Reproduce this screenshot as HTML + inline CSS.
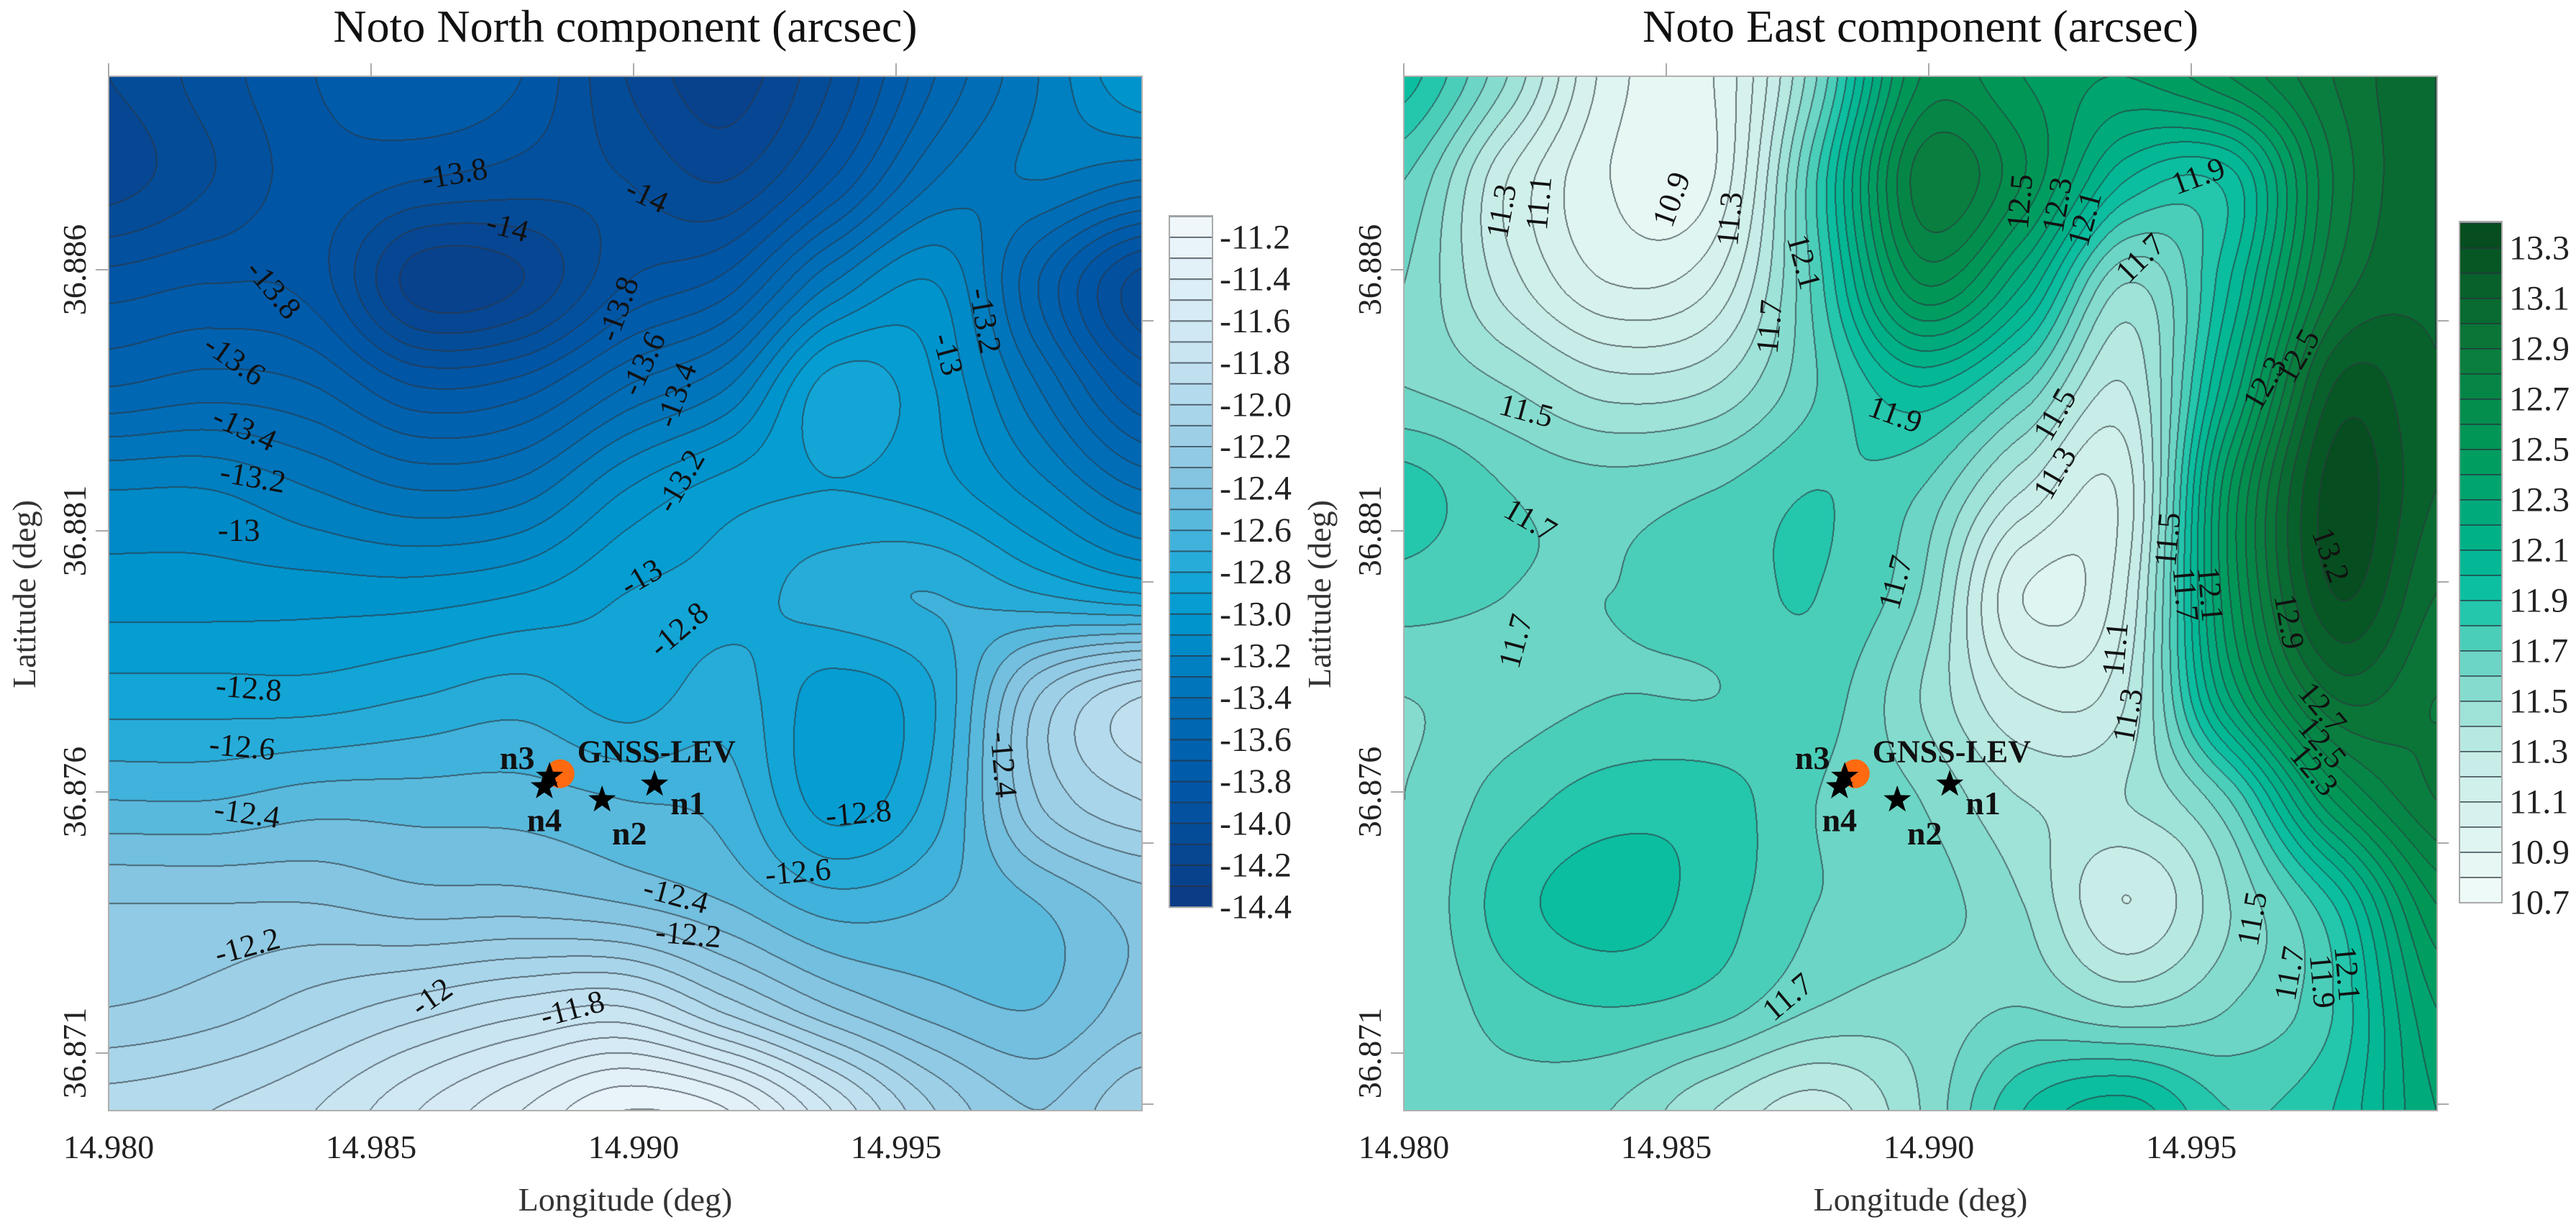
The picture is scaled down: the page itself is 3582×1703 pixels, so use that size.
<!DOCTYPE html>
<html><head><meta charset="utf-8">
<style>
html,body{margin:0;padding:0;background:#fff;}
#wrap{position:relative;width:3582px;height:1703px;overflow:hidden;background:#fff;font-family:"Liberation Serif",serif;}
canvas{position:absolute;}
svg{position:absolute;left:0;top:0;font-family:"Liberation Serif",serif;}
svg text{font-family:"Liberation Serif",serif;}
</style></head>
<body>
<div id="wrap">
<canvas id="cN" style="left:151px;top:106px" width="1437" height="1438"></canvas>
<canvas id="cE" style="left:1952px;top:106px" width="1436" height="1438"></canvas>
<svg id="ov" width="3582" height="1703" font-family="Liberation Serif, serif"></svg>
</div>
<script>
// ---- data ----
// grid values: 11 rows (north->south) x 11 cols (west->east), lon 14.980-15.000
const northGrid = [
[-14.1,-13.95,-13.8,-13.7,-13.8,-14.1,-14.25,-14.0,-13.6,-13.3,-13.0],
[-14.15,-14.0,-13.85,-13.9,-13.95,-14.0,-14.1,-13.8,-13.4,-13.3,-13.4],
[-13.85,-13.8,-13.85,-14.25,-14.2,-13.9,-13.75,-13.3,-13.1,-13.6,-14.05],
[-13.6,-13.55,-13.6,-13.8,-13.75,-13.5,-13.3,-12.85,-13.0,-13.4,-13.8],
[-13.2,-13.2,-13.3,-13.4,-13.35,-13.1,-12.95,-12.9,-12.95,-13.15,-13.4],
[-13.05,-13.05,-13.05,-13.05,-13.0,-12.9,-12.85,-12.75,-12.7,-12.8,-12.9],
[-12.85,-12.85,-12.85,-12.8,-12.75,-12.85,-12.75,-12.95,-12.8,-12.2,-11.9],
[-12.6,-12.6,-12.55,-12.55,-12.55,-12.6,-12.65,-12.95,-12.75,-12.2,-12.0],
[-12.3,-12.3,-12.3,-12.35,-12.35,-12.4,-12.5,-12.65,-12.6,-12.5,-12.35],
[-12.2,-12.15,-12.05,-11.95,-11.85,-11.8,-12.05,-12.3,-12.45,-12.5,-12.35],
[-11.95,-11.9,-11.8,-11.6,-11.4,-11.2,-11.3,-11.7,-12.1,-12.3,-12.1]];
const eastGrid = [
[11.95,11.5,10.95,10.9,11.6,12.6,12.5,12.4,12.6,12.9,13.1],
[11.7,11.2,10.9,10.9,11.8,12.85,12.6,12.0,11.95,12.8,13.1],
[11.6,11.25,11.0,11.1,11.75,12.6,12.2,11.5,12.0,12.9,13.1],
[11.6,11.5,11.35,11.4,11.7,12.0,11.7,11.3,12.2,13.2,13.1],
[11.85,11.7,11.65,11.7,11.8,11.7,11.3,11.15,12.5,13.35,13.1],
[11.75,11.7,11.7,11.75,11.8,11.6,11.0,11.2,12.5,13.3,13.0],
[11.6,11.65,11.7,11.7,11.75,11.5,11.2,11.3,12.3,13.0,12.9],
[11.6,11.75,11.85,11.85,11.7,11.6,11.4,11.4,11.7,12.5,12.9],
[11.6,11.85,11.95,11.85,11.7,11.65,11.5,11.2,11.5,11.9,12.6],
[11.6,11.75,11.8,11.75,11.6,11.55,11.6,11.5,11.6,11.8,12.4],
[11.6,11.65,11.6,11.4,11.25,11.5,11.9,12.05,11.8,11.9,12.3]];
const xTicks = [14.980,14.985,14.990,14.995];
const yTicks = [36.886,36.881,36.876,36.871];
const northCbTicks = [-11.2,-11.4,-11.6,-11.8,-12.0,-12.2,-12.4,-12.6,-12.8,-13.0,-13.2,-13.4,-13.6,-13.8,-14.0,-14.2,-14.4];
const eastCbTicks = [13.3,13.1,12.9,12.7,12.5,12.3,12.1,11.9,11.7,11.5,11.3,11.1,10.9,10.7];
const stationNames = ["n1","n2","n3","n4"];
const stationLon = [14.9904,14.9894,14.9884,14.9883];
const stationLat = [36.87615,36.87585,36.8763,36.8761];
const gnssLon = [14.9886];
const gnssLat = [36.87635];
const northLabels = [["-13.8",548,222,-10],["-14",780,250,25],["-14",612,290,15],["-13.8",330,370,50],["-13.6",283,460,35],["-13.4",295,548,25],["-13.2",305,610,10],["-13",288,678,0],["-13.8",745,395,-70],["-13.6",775,465,-65],["-13.4",815,505,-70],["-13.2",820,615,-60],["-13",773,738,-30],["-12.8",818,805,-40],["-13.2",1188,410,80],["-13",1143,453,75],["-12.8",300,880,5],["-12.6",292,955,5],["-12.4",298,1040,8],["-12.8",1035,1040,-5],["-12.6",962,1115,-5],["-12.4",815,1145,15],["-12.2",830,1195,5],["-12.2",298,1210,-15],["-12",520,1275,-35],["-11.8",690,1290,-15],["-12.4",1210,978,85]];
const eastLabels = [["11.3",265,270,-80],["11.1",310,260,-85],["10.9",470,255,-70],["11.3",540,280,-85],["12.1",630,335,75],["12.5",890,258,-85],["12.3",935,262,-80],["12.1",968,280,-75],["11.9",1105,225,-20],["11.7",1035,330,-45],["11.7",588,418,-85],["11.5",295,525,15],["11.9",740,530,20],["11.5",932,530,-60],["11.3",932,605,-60],["12.3",1185,490,-60],["12.5",1225,455,-60],["11.7",300,665,30],["13.2",1265,710,70],["11.5",1068,690,-85],["11.7",1090,760,85],["12.1",1120,760,85],["11.7",740,745,-75],["12.9",1215,795,80],["11.1",1005,830,-85],["11.7",282,820,-75],["11.3",1020,915,-80],["12.7",1255,905,50],["12.5",1255,950,50],["12.3",1245,985,50],["11.5",1170,1175,-80],["11.7",1215,1245,-80],["11.9",1255,1255,85],["12.1",1285,1245,85],["11.7",610,1275,-40]];

// ---- scales ----
const PW=1437, PH=1438, TOP=106;
function xS(lon,left){return left+(lon-14.98)/0.005*365;}
function yS(lat){return 375+(36.886-lat)/0.005*363;}

const northStops=[[-11.1,[242,248,252]],[-11.8,[198,227,241]],[-12.4,[127,194,224]],[-12.8,[26,169,216]],[-13.0,[0,153,208]],[-13.4,[0,112,184]],[-13.8,[0,88,168]],[-14.4,[12,58,130]]];
const eastStops=[[10.7,[242,251,249]],[11.3,[196,236,230]],[11.7,[95,210,192]],[11.9,[16,194,166]],[12.1,[0,180,143]],[12.5,[0,154,90]],[12.9,[10,122,58]],[13.4,[6,72,28]]];
function cmap(stops,v){
  let s=stops; if(s[0][0]>s[s.length-1][0]) s=s.slice().reverse();
  if(v<=s[0][0]) return s[0][1];
  if(v>=s[s.length-1][0]) return s[s.length-1][1];
  for(let i=0;i<s.length-1;i++){ if(v>=s[i][0]&&v<=s[i+1][0]){const t=(v-s[i][0])/(s[i+1][0]-s[i][0]);return s[i][1].map((a,k)=>a+(s[i+1][1][k]-a)*t);} }
}
function cr(p0,p1,p2,p3,t){return 0.5*(2*p1+(-p0+p2)*t+(2*p0-5*p1+4*p2-p3)*t*t+(-p0+3*p1-3*p2+p3)*t*t*t);}
function sample(G,u,v){
  const n=G.length-1;
  const i=Math.min(Math.floor(u),n-1), j=Math.min(Math.floor(v),n-1);
  const tu=u-i, tv=v-j;
  const g=(r,c)=>G[Math.max(0,Math.min(n,r))][Math.max(0,Math.min(n,c))];
  const rows=[];
  for(let k=-1;k<=2;k++) rows.push(cr(g(j+k,i-1),g(j+k,i),g(j+k,i+1),g(j+k,i+2),tu));
  return cr(rows[0],rows[1],rows[2],rows[3],tv);
}
function drawMap(id,G,stops){
  const cv=document.getElementById(id), W=cv.width, H=cv.height, ctx=cv.getContext('2d');
  const img=ctx.createImageData(W,H), d=img.data;
  const band=new Int16Array(W*H);
  for(let y=0;y<H;y++){const v=y/(H-1)*10;for(let x=0;x<W;x++){band[y*W+x]=Math.floor(sample(G,x/(W-1)*10,v)/0.1+1e-6);}}
  const cache={};
  for(let y=0;y<H;y++)for(let x=0;x<W;x++){
    const i=y*W+x,b=band[i];
    let c=cache[b]; if(!c){c=cache[b]=cmap(stops,(b+0.5)*0.1);}
    let line=(x<W-1&&band[i+1]!==b)||(y<H-1&&band[i+W]!==b)||(x>0&&band[i-1]!==b)||(y>0&&band[i-W]!==b);
    const o=i*4;
    if(line){d[o]=c[0]*0.35+30;d[o+1]=c[1]*0.35+35;d[o+2]=c[2]*0.35+40;}
    else{d[o]=c[0];d[o+1]=c[1];d[o+2]=c[2];}
    d[o+3]=255;
  }
  ctx.putImageData(img,0,0);
}
drawMap('cN',northGrid,northStops);
drawMap('cE',eastGrid,eastStops);

// ---- SVG overlay ----
const NS='http://www.w3.org/2000/svg', svg=document.getElementById('ov');
function mk(tag,attrs,parent){const e=document.createElementNS(NS,tag);for(const k in attrs)e.setAttribute(k,attrs[k]);(parent||svg).appendChild(e);return e;}
function txt(s,attrs,parent){attrs['font-family']='Liberation Serif, serif';const e=mk('text',attrs,parent);e.textContent=s;return e;}
function starPts(cx,cy,R){let p=[];for(let k=0;k<10;k++){const r=k%2?R*0.4:R;const a=-Math.PI/2+k*Math.PI/5;p.push((cx+r*Math.cos(a)).toFixed(1)+','+(cy+r*Math.sin(a)).toFixed(1));}return p.join(' ');}

const panels=[
 {left:151,name:'north',title:'Noto North component (arcsec)',labels:northLabels,cbX:1626,cbW:60,cbTop:300,cbTicks:northCbTicks,cbY:v=>330+(-11.2-v)/0.1*29.1,cbTopV:-11.1,cbBotV:-14.4,stops:northStops},
 {left:1952,name:'east',title:'Noto East component (arcsec)',labels:eastLabels,cbX:3420,cbW:59,cbTop:308,cbTicks:eastCbTicks,cbY:v=>345+(13.3-v)/0.1*35,cbTopV:13.4,cbBotV:10.7,stops:eastStops}
];
panels.forEach(P=>{
  const g=mk('g',{});
  
  
  const r=mk('rect',{x:P.left,y:TOP,width:PW,height:PH,fill:'none',stroke:'#b0b0b0','stroke-width':2},g);
  
  
  const t=txt(P.title,{x:P.left+PW/2,y:58,'text-anchor':'middle','font-size':64,fill:'#111'},g);
  
  
  xTicks.forEach(v=>{
    const x=xS(v,P.left);
    const tk=mk('line',{x1:x,x2:x,y1:TOP-18,y2:TOP,stroke:'#aaa','stroke-width':2},g);
    
    
    const l=txt(v.toFixed(3),{x:x,y:1610,'text-anchor':'middle','font-size':46,fill:'#222'},g);
    
    
  });
  yTicks.forEach(v=>{
    const y=yS(v);
    const tk=mk('line',{x1:P.left-18,x2:P.left,y1:y,y2:y,stroke:'#aaa','stroke-width':2},g);
    
    
    const tk2=mk('line',{x1:P.left+PW,x2:P.left+PW+16,y1:y+71,y2:y+71,stroke:'#aaa','stroke-width':2},g);
    
    
    const l=txt(v.toFixed(3),{x:0,y:0,'text-anchor':'middle','font-size':46,fill:'#222',transform:`translate(${P.left-32},${y}) rotate(-90)`},g);
    
    
  });
  const xt=txt('Longitude (deg)',{x:P.left+PW/2,y:1683,'text-anchor':'middle','font-size':46,fill:'#333'},g);
  
  
  const yt=txt('Latitude (deg)',{x:0,y:0,'text-anchor':'middle','font-size':46,fill:'#333',transform:`translate(${P.left-102},826) rotate(-90)`},g);
  
  
  P.labels.forEach(L=>{
    const px=(P.name==='north'?L[1]/0.867:1782+L[1]/0.867), py=L[2]/0.92;
    const lb=txt(L[0],{x:0,y:0,'text-anchor':'middle','dominant-baseline':'central','font-size':44,fill:'#111',transform:`translate(${px.toFixed(1)},${py.toFixed(1)}) rotate(${L[3]})`},g);
    
    
  });
  const cbG=mk('g',{},g);
  
  
  const hi=Math.max(P.cbTopV,P.cbBotV), lo=Math.min(P.cbTopV,P.cbBotV);
  const N=Math.round((hi-lo)/0.1);
  const dir=P.cbBotV>P.cbTopV?1:-1;
  for(let k=0;k<N;k++){
    const a=P.cbTopV+dir*0.1*k, b=P.cbTopV+dir*0.1*(k+1);
    const y1=Math.max(P.cbTop,P.cbY(a)), y2=P.cbY(b);
    const c=cmap(P.stops,(a+b)/2);
    const br=mk('rect',{x:P.cbX,y:y1,width:P.cbW,height:y2-y1,fill:`rgb(${c.map(Math.round).join(',')})`,stroke:'rgba(40,50,60,0.55)','stroke-width':2},cbG);
    
    
  }
  const fr=mk('rect',{x:P.cbX,y:P.cbTop,width:P.cbW,height:P.cbY(P.cbBotV)-P.cbTop,fill:'none',stroke:'#aaa','stroke-width':2},cbG);
  
  
  P.cbTicks.forEach(v=>{
    const l=txt(v.toFixed(1),{x:P.cbX+P.cbW+10,y:P.cbY(v),'dominant-baseline':'central','font-size':48,fill:'#222'},cbG);
    
    
  });
  const gx=xS(gnssLon[0],P.left), gy=yS(gnssLat[0]);
  const gc=mk('circle',{cx:gx,cy:gy,r:20,fill:'#ff6a10'},g);
  
  
  const gl=txt('GNSS-LEV',{x:gx+24,y:gy-16,'font-size':44,'font-weight':'bold',fill:'#111'},g);
  
  
  const offs={n1:[22,42,'start'],n2:[38,62,'middle'],n3:[-45,-10,'middle'],n4:[0,62,'middle']};
  stationNames.forEach((n,i)=>{
    const sx=xS(stationLon[i],P.left), sy=yS(stationLat[i]);
    const st=mk('polygon',{points:starPts(sx,sy,20),fill:'#000'},g);
    
    
    const o=offs[n];
    const sl=txt(n,{x:sx+o[0],y:sy+o[1],'text-anchor':o[2],'font-size':46,'font-weight':'bold',fill:'#111'},g);
    
    
  });
});
</script>
</body></html>
